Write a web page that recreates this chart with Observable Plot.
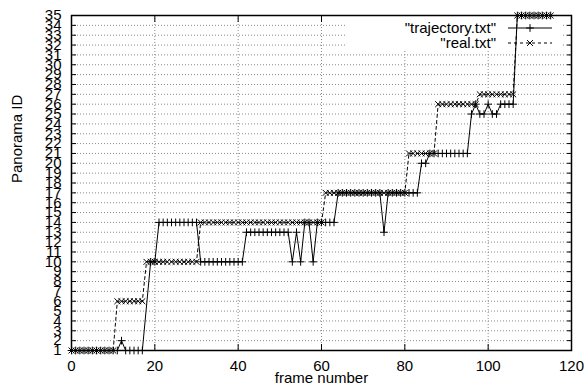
<!DOCTYPE html>
<html>
<head>
<meta charset="utf-8">
<script src="https://cdn.jsdelivr.net/npm/d3@7"></script>
<script src="https://cdn.jsdelivr.net/npm/@observablehq/plot@0.6"></script>
<style>
  html, body { margin: 0; padding: 0; background: #fff; }
  #chart { width: 585px; height: 390px; }
</style>
</head>
<body>
<div id="chart"></div>
<script>
// ---- data ----
const xTicks = [0, 20, 40, 60, 80, 100, 120];
const yTicks = [1,2,3,4,5,6,7,8,9,10,11,12,13,14,15,16,17,18,19,20,21,22,23,24,25,26,27,28,29,30,31,32,33,34,35];
const seriesNames = ['"trajectory.txt"', '"real.txt"'];

const trajFrames = [
  0,1,2,3,4,5,6,7,8,9,10,11,12,13,14,15,16,17,
  19,20,21,22,23,24,25,26,27,28,29,30,31,32,33,34,35,36,37,38,39,40,
  41,42,43,44,45,46,47,48,49,50,51,52,53,54,55,56,57,58,59,60,
  61,62,63,64,65,66,67,68,69,70,71,72,73,74,75,76,77,78,79,80,
  81,82,83,84,85,86,87,88,89,90,91,92,93,94,95,96,97,98,99,100,
  101,102,103,104,105,106,107,108,109,110,111,112,113,114,115
];
const trajIds = [
  1,1,1,1,1,1,1,1,1,1,1,1,2,1,1,1,1,1,
  10,10,14,14,14,14,14,14,14,14,14,14,10,10,10,10,10,10,10,10,10,10,
  10,13,13,13,13,13,13,13,13,13,13,13,10,13,10,14,14,10,14,14,
  14,14,14,17,17,17,17,17,17,17,17,17,17,17,13,17,17,17,17,17,
  17,17,17,20,20,21,21,21,21,21,21,21,21,21,21,25,26,25,25,26,
  25,25,26,26,26,26,35,35,35,35,35,35,35,35,35
];

const realFrames = [
  0,1,2,3,4,5,6,7,8,9,10,11,12,13,14,15,16,17,18,19,20,
  21,22,23,24,25,26,27,28,29,30,31,32,33,34,35,36,37,38,39,40,
  41,42,43,44,45,46,47,48,49,50,51,52,53,54,55,56,57,58,59,60,
  61,62,63,64,65,66,67,68,69,70,71,72,73,74,75,76,77,78,79,80,
  81,82,83,84,85,86,87,88,89,90,91,92,93,94,95,96,97,98,99,100,
  101,102,103,104,105,106,107,108,109,110,111,112,113,114,115
];
const realIds = [
  1,1,1,1,1,1,1,1,1,1,1,6,6,6,6,6,6,6,10,10,10,
  10,10,10,10,10,10,10,10,10,10,14,14,14,14,14,14,14,14,14,14,
  14,14,14,14,14,14,14,14,14,14,14,14,14,14,14,14,14,14,14,14,
  17,17,17,17,17,17,17,17,17,17,17,17,17,17,17,17,17,17,17,17,
  21,21,21,21,21,21,21,26,26,26,26,26,26,26,26,26,26,27,27,27,
  27,27,27,27,27,27,35,35,35,35,35,35,35,35,35
];

const traj = trajFrames.map((f, i) => ({frame: f, id: trajIds[i]}));
const real = realFrames.map((f, i) => ({frame: f, id: realIds[i]}));

const W = 585, H = 390;
const mL = 71, mR = 14, mT = 15, mB = 40;
const FS = 15;
const font = "'Liberation Sans', Arial, Helvetica, sans-serif";
const gridStyle = {stroke: "#8a8a8a", strokeOpacity: 1, strokeWidth: 1, strokeDasharray: "1,2"};

const plot = Plot.plot({
  width: W, height: H,
  marginLeft: mL, marginRight: mR, marginTop: mT, marginBottom: mB,
  style: {fontFamily: font, fontSize: FS + "px", background: "#fff", color: "#000"},
  x: {domain: [0, 120]},
  y: {domain: [1, 35]},
  marks: [
    Plot.gridY(yTicks.slice(1, -1), gridStyle),
    Plot.gridX(xTicks.slice(1, -1), gridStyle),
    // inward tick marks on all four sides
    Plot.axisX(xTicks, {anchor: "bottom", tickSize: -6, text: null, label: null, stroke: "#000"}),
    Plot.axisX(xTicks, {anchor: "top", tickSize: -6, text: null, label: null, stroke: "#000"}),
    Plot.axisY(yTicks, {anchor: "left", tickSize: -5, text: null, label: null, stroke: "#000"}),
    Plot.axisY(yTicks, {anchor: "right", tickSize: -5, text: null, label: null, stroke: "#000"}),
    // tick labels
    Plot.axisX(xTicks, {anchor: "bottom", tickSize: 0, tickPadding: 10, label: null, fontSize: FS, fill: "#000"}),
    Plot.axisY(yTicks, {anchor: "left", tickSize: 0, tickPadding: 10, label: null, fontSize: FS, fill: "#000"}),
    // axis titles
    Plot.text(["frame number"], {text: d => d, frameAnchor: "bottom", dy: 32, fontSize: FS, fill: "#000"}),
    Plot.text(["Panorama ID"], {text: d => d, frameAnchor: "left", dx: -54, rotate: -90, fontSize: FS, fill: "#000"}),
    // series
    Plot.line(traj, {x: "frame", y: "id", stroke: "#000", strokeWidth: 1}),
    Plot.dot(traj, {x: "frame", y: "id", symbol: "plus", r: 2.6, stroke: "#000", strokeWidth: 1, fill: "none"}),
    Plot.line(real, {x: "frame", y: "id", stroke: "#000", strokeWidth: 1, strokeDasharray: "3,3"}),
    Plot.dot(real, {x: "frame", y: "id", symbol: "times", r: 2.8, stroke: "#000", strokeWidth: 1, fill: "none"}),
    Plot.frame({stroke: "#000", strokeWidth: 1.5})
  ]
});

document.getElementById("chart").appendChild(plot);

// ---- key (legend) inside the plot, top right, opaque ----
const svg = d3.select(plot);
const right = W - mR;
const firstLine = plot.querySelector('g[aria-label="line"]');
const box = document.createElementNS("http://www.w3.org/2000/svg", "rect");
box.setAttribute("x", right - 224);
box.setAttribute("y", mT + 1);
box.setAttribute("width", 215);
box.setAttribute("height", 34);
box.setAttribute("fill", "#fff");
firstLine.parentNode.insertBefore(box, firstLine);

const key = svg.append("g").attr("font-family", font).attr("font-size", FS);
const rows = [
  {name: seriesNames[0], dy: 13, dash: null, sym: d3.symbolPlus, size: 2.6},
  {name: seriesNames[1], dy: 28, dash: "3,3", sym: d3.symbolTimes, size: 2.8}
];
rows.forEach(r => {
  const y = mT + r.dy;
  key.append("text").attr("x", right - 75).attr("y", y).attr("dy", "0.35em")
    .attr("text-anchor", "end").attr("fill", "#000").text(r.name);
  key.append("line").attr("x1", right - 63).attr("x2", right - 19)
    .attr("y1", y).attr("y2", y).attr("stroke", "#000").attr("stroke-width", 1)
    .attr("stroke-dasharray", r.dash);
  key.append("path").attr("transform", `translate(${right - 41},${y})`)
    .attr("d", d3.symbol(r.sym, Math.PI * r.size * r.size)())
    .attr("fill", "none").attr("stroke", "#000").attr("stroke-width", 1);
});
</script>
</body>
</html>
